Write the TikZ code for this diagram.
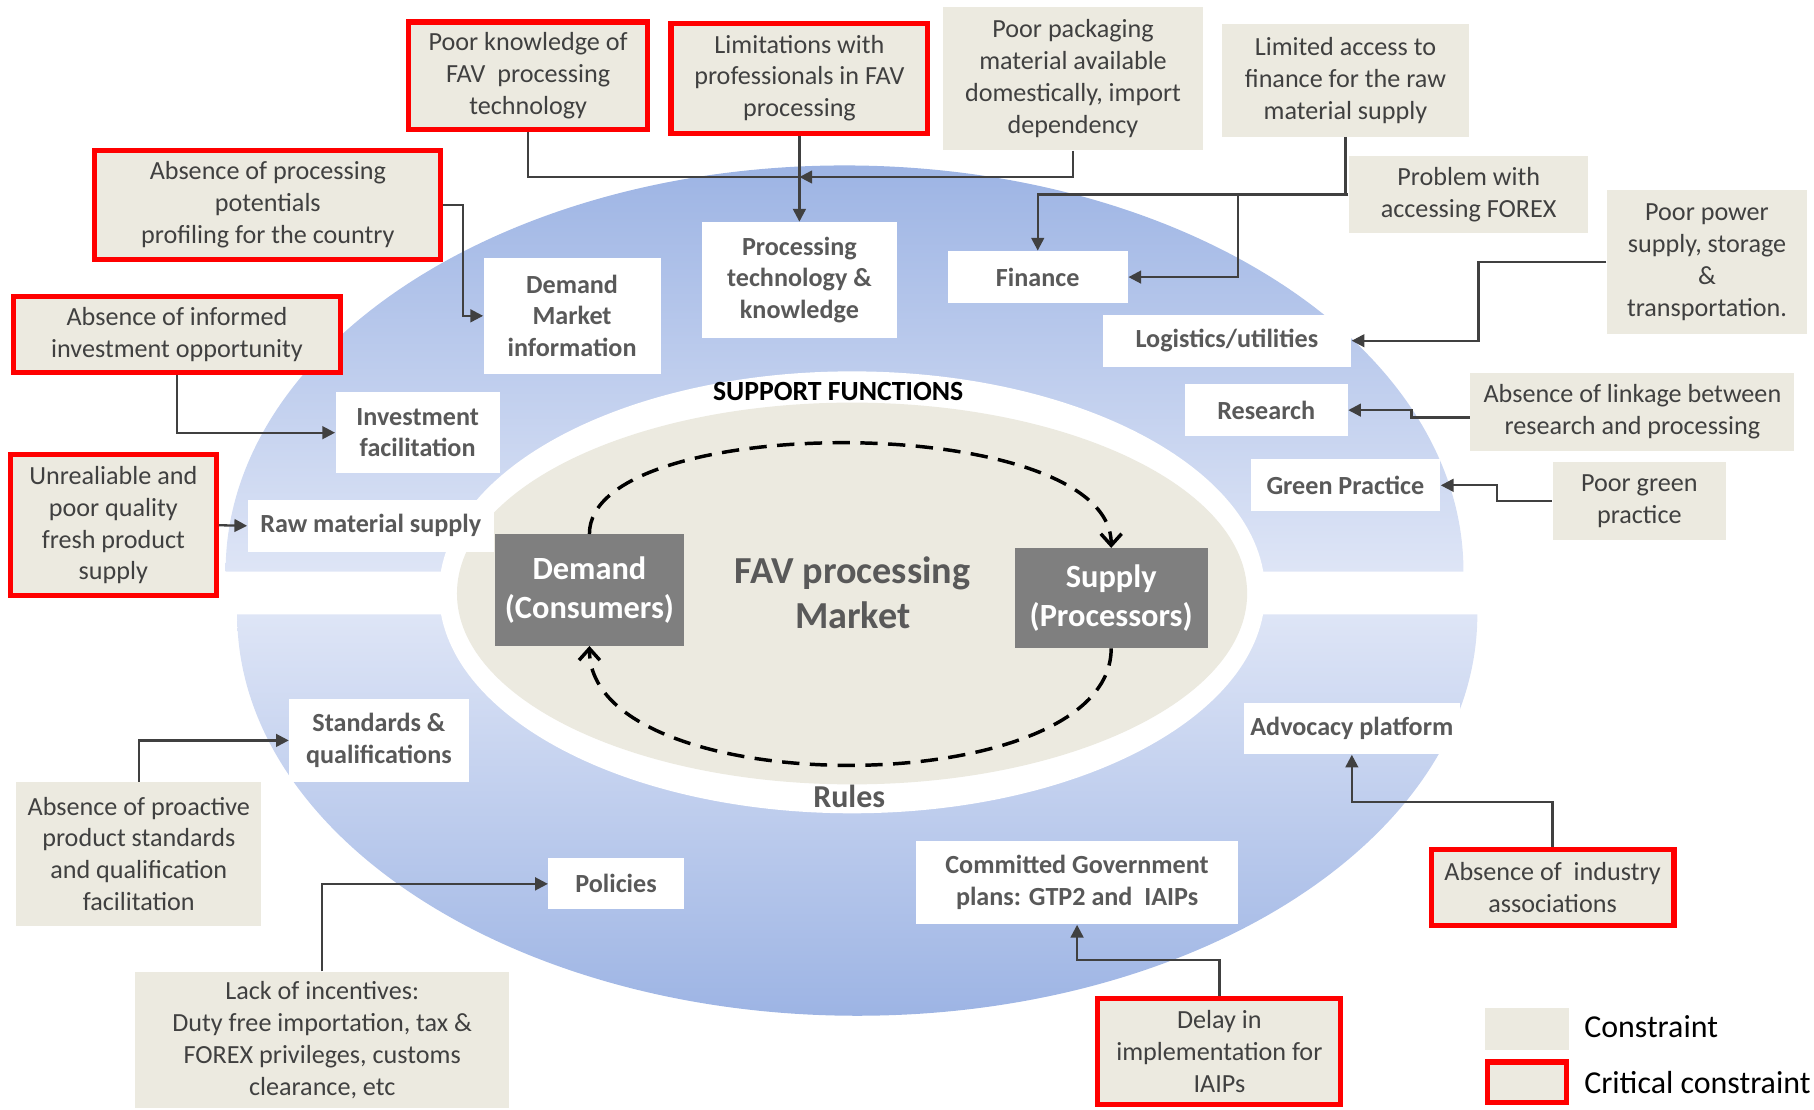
\documentclass[tikz,border=0pt]{standalone}
\usepackage{fontspec}
\setmainfont{Carlito}
\usetikzlibrary{arrows.meta}
\definecolor{beige}{RGB}{236,234,224}
\definecolor{ctext}{RGB}{64,64,64}
\definecolor{ftext}{RGB}{89,89,89}
\definecolor{mgray}{RGB}{127,127,127}
\definecolor{lcol}{RGB}{64,64,64}
\definecolor{bdark}{RGB}{157,180,228}
\definecolor{blight}{RGB}{222,229,246}
\definecolor{critred}{RGB}{255,0,0}
\tikzset{
 sz/.style n args={4}{minimum width={(#3-#1)*0.5pt}, minimum height={(#4-#2)*0.5pt}, at={({(#1+#3)/2},{(#2+#4)/2})}},
 con/.style={fill=beige, inner sep=0pt, text=ctext, align=center, font=\fontsize{11.3}{13.75}\selectfont},
 crit/.style={con, draw=critred, line width=2.2pt},
 fun/.style={fill=white, inner sep=0pt, text=ftext, align=center, font=\bfseries\fontsize{11.3}{13.75}\selectfont},
 mkt/.style={fill=mgray, inner sep=0pt, text=white, align=center, font=\bfseries\fontsize{14}{16.5}\selectfont},
 conn/.style={draw=lcol, line width=1pt, -{Triangle[length=5.5pt,width=5.5pt]}},
 plainline/.style={draw=lcol, line width=1pt},
 cyc/.style={draw=black, line width=1.5pt, dash pattern=on 7.5pt off 4.5pt, -{Straight Barb[length=5pt,width=9pt]}}
}
\begin{document}
\begin{tikzpicture}[x=0.5pt,y=-0.5pt]
\useasboundingbox (0,0) rectangle (1568,959);
% blue halves
\shade[top color=bdark, bottom color=blight] (195,494) arc[start angle=180,end angle=360,x radius=535,y radius=351] -- cycle;
\shade[top color=blight, bottom color=bdark] (205,531) arc[start angle=180,end angle=0,x radius=536,y radius=347] -- cycle;
% rings
\fill[white] (736.5,512) ellipse [x radius=357, y radius=191];
\fill[beige] (736.5,513) ellipse [x radius=341.5, y radius=165];
\node[font=\bfseries\fontsize{12}{14}\selectfont, text=black] (sf) at (724.5,338) {SUPPORT FUNCTIONS};
\node[font=\bfseries\fontsize{13.8}{16}\selectfont, text=ftext] (rules) at (734,688) {Rules};
\node[font=\bfseries\fontsize{16.5}{19.5}\selectfont, text=ftext, align=center] (mk) at (737,512) {FAV processing\\Market};
\node[mkt, sz={428}{462}{591}{558}] (dem) {Demand\\(Consumers)};
\node[mkt, sz={877}{474}{1044}{560}] (sup) {Supply\\(Processors)};
\draw[cyc] (dem.north) .. controls (509,355) and (960.5,355) .. (sup.north);
\draw[cyc] (sup.south) .. controls (960.5,695) and (509.5,695) .. (dem.south);
% function boxes
\node[fun, sz={418}{223}{571}{323}] (dmi) {Demand\\Market\\information};
\node[fun, sz={607}{192}{775}{292}] (ptk) {Processing\\technology \&\\knowledge};
\node[fun, sz={819}{217}{975}{262}] (fin) {Finance};
\node[fun, sz={953}{272}{1168}{317}] (log) {Logistics/utilities};
\node[fun, sz={1024}{332}{1165}{377}] (res) {Research};
\node[fun, sz={1081}{397}{1245}{442}] (gp) {Green Practice};
\node[fun, sz={290}{339}{432}{409}] (inv) {Investment\\facilitation};
\node[fun, sz={214}{432}{427}{477}] (raw) {Raw material supply};
\node[fun, sz={250}{604}{405}{676}] (std) {Standards \&\\qualifications};
\node[fun, sz={474}{742}{591}{786}] (pol) {Policies};
\node[fun, sz={792}{727}{1070}{799}] (cgp) {Committed Government\\plans: GTP2 and\ \ IAIPs};
\node[fun, sz={1075}{608}{1262}{652}] (adv) {Advocacy platform};
% constraint boxes
\node[crit, sz={353}{19}{560}{112}] (pk) {Poor knowledge of\\FAV\ \ processing\\technology};
\node[crit, sz={580}{20}{802}{115}] (lim) {Limitations with\\professionals in FAV\\processing};
\node[con, sz={815}{6}{1040}{130}] (pack) {Poor packaging\\material available\\domestically, import\\dependency};
\node[con, sz={1056}{21}{1270}{118}] (lac) {Limited access to\\finance for the raw\\material supply};
\node[con, sz={1166}{135}{1373}{201}] (forex) {Problem with\\accessing FOREX};
\node[con, sz={1389}{164}{1562}{289}] (pow) {Poor power\\supply, storage\\\&\\transportation.};
\node[con, sz={1271}{322}{1551}{390}] (link) {Absence of linkage between\\research and processing};
\node[con, sz={1342}{399}{1492}{467}] (green) {Poor green\\practice};
\node[crit, sz={82}{130}{381}{224}] (pot) {Absence of processing\\potentials\\profiling for the country};
\node[crit, sz={12}{256}{294}{322}] (inf) {Absence of informed\\investment opportunity};
\node[crit, sz={9}{393}{187}{515}] (unr) {Unrealiable and\\poor quality\\fresh product\\supply};
\node[con, sz={14}{676}{226}{800}] (pro) {Absence of proactive\\product standards\\and qualification\\facilitation};
\node[con, sz={117}{840}{440}{958}] (inc) {Lack of incentives:\\Duty free importation, tax \&\\FOREX privileges, customs\\clearance, etc};
\node[crit, sz={949}{863}{1159}{955}] (del) {Delay in\\implementation for\\IAIPs};
\node[crit, sz={1237}{734}{1447}{800}] (ind) {Absence of\ \ industry\\associations};
% legend
\node[con, sz={1284}{871}{1356}{908}] (leg1) {};
\node[crit, sz={1286}{918}{1354}{953}] (leg2) {};
\node[anchor=west, inner sep=0pt, font=\fontsize{13.8}{16}\selectfont, text=black] (legt1) at (1369,887) {Constraint};
\node[anchor=west, inner sep=0pt, font=\fontsize{13.8}{16}\selectfont, text=black] (legt2) at (1369,936) {Critical constraint};
% junction coordinates
\coordinate (j1) at (691,153);
\coordinate (j2) at (1163,168);
\coordinate (j3) at (1070,168);
\coordinate (j4) at (1278,226.5);
\coordinate (j5) at (1220,358);
\coordinate (j6) at (1294,426);
\coordinate (j7) at (400,225);
\coordinate (j8) at (1000,830);
\coordinate (j9) at (1250,693);
% connectors
\draw[plainline] (pk.south) |- (j1);
\draw[conn] (pack.south) |- (j1);
\draw[conn] (lim.south) -- (ptk.north);
\draw[conn] (lac.south) -- (j2) -| (fin.north);
\draw[conn] (forex.west) -- (j3) |- (fin.east);
\draw[conn] (pow.west) -| (j4) |- (log.east);
\draw[conn] ([yshift=-2.5pt]link.west) -| (j5) |- (res.east);
\draw[conn] (green.west) -| (j6) |- (gp.east);
\draw[conn] (pot.east) -| (j7) |- (dmi.west);
\draw[conn] (inf.south) |- (inv.west);
\draw[conn] (unr.east) -- (raw.west);
\draw[conn] (pro.north) |- (std.west);
\draw[conn] (inc.north) |- (pol.west);
\draw[conn] (del.north) |- (j8) -| (cgp.south);
\draw[conn] (ind.north) |- (j9) -| (adv.south);
\end{tikzpicture}
\end{document}
